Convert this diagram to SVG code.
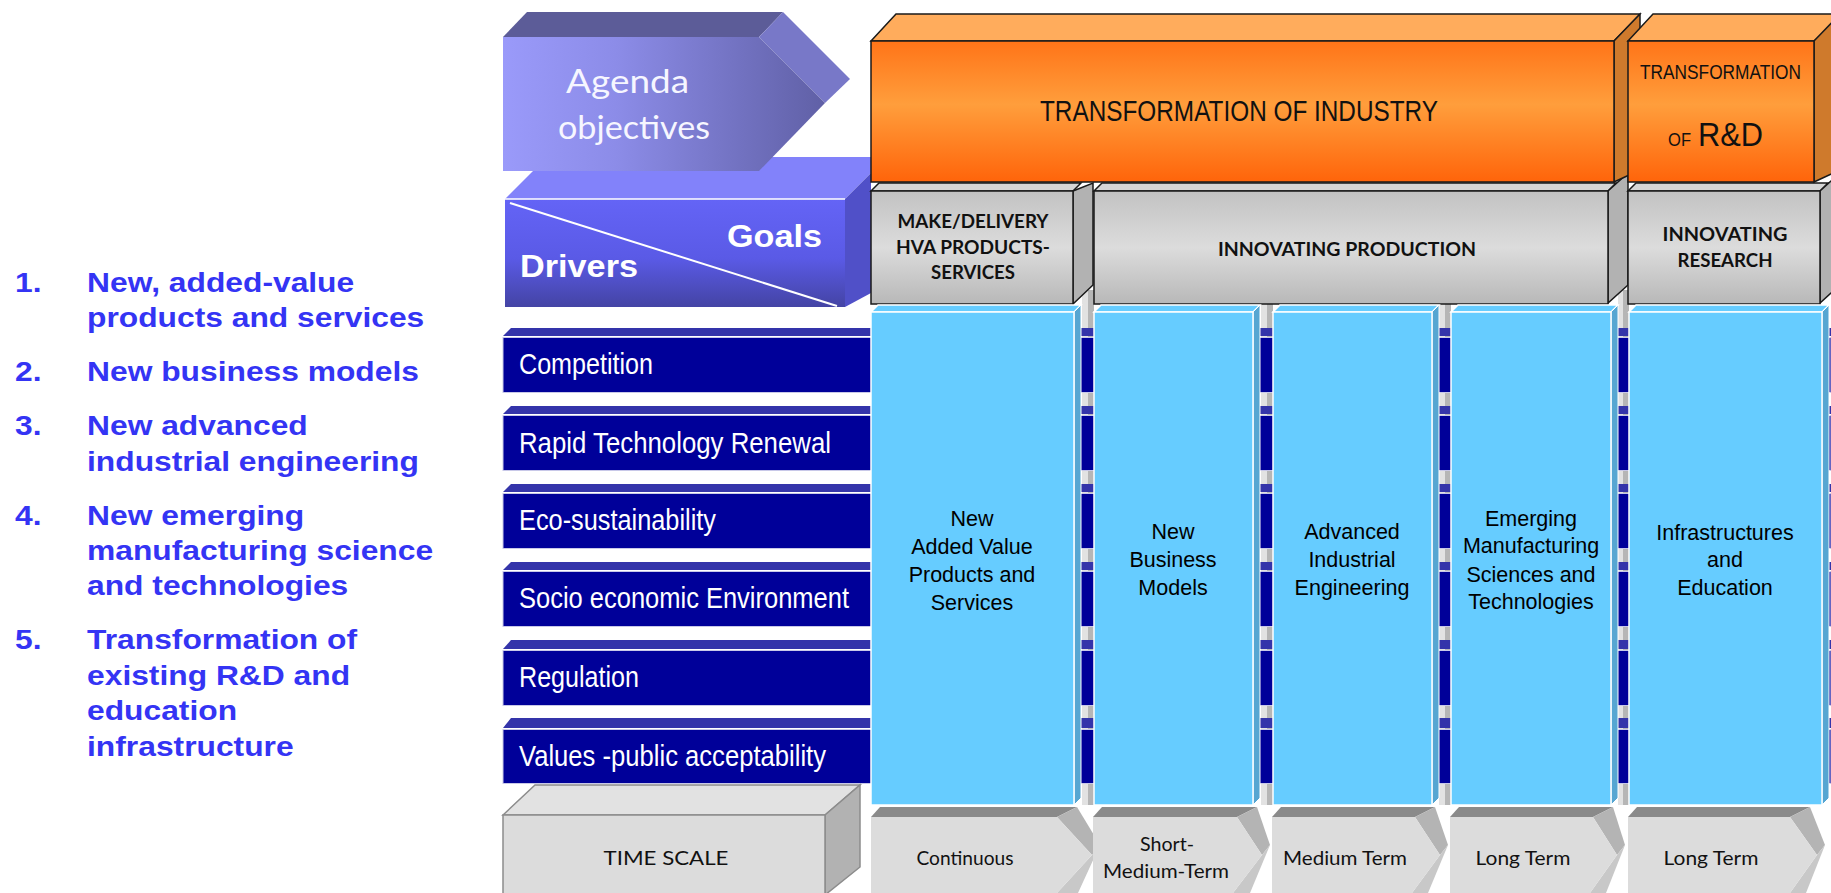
<svg xmlns="http://www.w3.org/2000/svg" width="1831" height="893" viewBox="0 0 1831 893">
<defs>
<linearGradient id="gAgenda" x1="0" y1="0" x2="1" y2="0"><stop offset="0" stop-color="#9a9afa"/><stop offset="0.35" stop-color="#8c8ce8"/><stop offset="1" stop-color="#6060a6"/></linearGradient>
<linearGradient id="gDrivers" x1="0" y1="0" x2="0" y2="1"><stop offset="0" stop-color="#6464f6"/><stop offset="0.55" stop-color="#5a5ae6"/><stop offset="1" stop-color="#4444a4"/></linearGradient>
<linearGradient id="gOrange" x1="0" y1="0" x2="0" y2="1"><stop offset="0" stop-color="#ff7418"/><stop offset="0.45" stop-color="#ff9e3c"/><stop offset="1" stop-color="#ff640a"/></linearGradient>
<linearGradient id="gGray" x1="0" y1="0" x2="0" y2="1"><stop offset="0" stop-color="#c2c2c2"/><stop offset="0.5" stop-color="#dcdcdc"/><stop offset="1" stop-color="#b8b8b8"/></linearGradient>
<style>
.list{font-family:"Liberation Sans",Arial,sans-serif;font-weight:bold;font-size:28px;fill:#3434f4}
.bar{font-family:"Liberation Sans",Arial,sans-serif;font-size:30px;fill:#ffffff}
.col{font-family:"Liberation Sans",Arial,sans-serif;font-size:21.5px;fill:#000000;text-anchor:middle}
.goal{font-family:Lato,"DejaVu Sans",sans-serif;font-weight:bold;font-size:19px;fill:#111111;text-anchor:middle}
.time{font-family:Lato,"DejaVu Sans",sans-serif;font-size:20px;fill:#111111;text-anchor:middle}
.orangeT{font-family:"Liberation Sans",Arial,sans-serif;fill:#111111}
.agenda{font-family:Lato,"DejaVu Sans",sans-serif;font-size:32px;fill:#f6f6ff}
.dg{font-family:"Liberation Sans",Arial,sans-serif;font-weight:bold;font-size:32px;fill:#ffffff}
.strip{fill:#3434aa}
.navy{fill:#000099}
.colF{fill:#66ccff;stroke:#ffffff;stroke-width:1.5}
.colS{fill:#56a6d2;stroke:#ffffff;stroke-width:1}
.pilL{fill:#e2e2e2}
.pilR{fill:#b6b6b6}
.ob{stroke:#1a1a1a;stroke-width:1.5}
.gb{stroke:#1a1a1a;stroke-width:1.5}
.tF{fill:#dcdcdc}
.tT{fill:#8a8a8a}
.tS{fill:#b4b4b4}
.tS2{fill:#c8c8c8}
</style>
</defs>

<g id="goal-list" transform="scale(1.135,1)">
<text class="list" x="13.2" y="292">1.</text>
<text class="list" x="76.7" y="292">New, added-value</text>
<text class="list" x="76.7" y="327">products and services</text>
<text class="list" x="13.2" y="381">2.</text>
<text class="list" x="76.7" y="381">New business models</text>
<text class="list" x="13.2" y="435">3.</text>
<text class="list" x="76.7" y="435">New advanced</text>
<text class="list" x="76.7" y="471">industrial engineering</text>
<text class="list" x="13.2" y="525">4.</text>
<text class="list" x="76.7" y="525">New emerging</text>
<text class="list" x="76.7" y="560">manufacturing science</text>
<text class="list" x="76.7" y="595">and technologies</text>
<text class="list" x="13.2" y="649">5.</text>
<text class="list" x="76.7" y="649">Transformation of</text>
<text class="list" x="76.7" y="685">existing R&amp;D and</text>
<text class="list" x="76.7" y="720">education</text>
<text class="list" x="76.7" y="756">infrastructure</text>
</g>

<g id="pillars">
<rect class="pilL" x="1082" y="290" width="6" height="515"/><rect class="pilR" x="1088" y="290" width="6" height="515"/>
<rect class="pilL" x="1261" y="290" width="6" height="515"/><rect class="pilR" x="1267" y="290" width="6" height="515"/>
<rect class="pilL" x="1439" y="290" width="6" height="515"/><rect class="pilR" x="1445" y="290" width="6" height="515"/>
<rect class="pilL" x="1618" y="290" width="5" height="515"/><rect class="pilR" x="1623" y="290" width="6" height="515"/>
</g>

<g id="driver-bars">
<g id="bar-competition">
<polygon class="strip" points="503,336 511,328 1831,328 1831,336"/>
<rect class="navy" x="503" y="337.5" width="1328" height="55" stroke="#c8c8e8" stroke-width="1"/>
<text class="bar" x="519" y="374" textLength="134" lengthAdjust="spacingAndGlyphs">Competition</text>
</g>
<g id="bar-rapid">
<polygon class="strip" points="503,414 511,406 1831,406 1831,414"/>
<rect class="navy" x="503" y="415.5" width="1328" height="55" stroke="#c8c8e8" stroke-width="1"/>
<text class="bar" x="519" y="453" textLength="312" lengthAdjust="spacingAndGlyphs">Rapid Technology Renewal</text>
</g>
<g id="bar-eco">
<polygon class="strip" points="503,492 511,484 1831,484 1831,492"/>
<rect class="navy" x="503" y="493.5" width="1328" height="55" stroke="#c8c8e8" stroke-width="1"/>
<text class="bar" x="519" y="530" textLength="197" lengthAdjust="spacingAndGlyphs">Eco-sustainability</text>
</g>
<g id="bar-socio">
<polygon class="strip" points="503,570 511,562 1831,562 1831,570"/>
<rect class="navy" x="503" y="571.5" width="1328" height="55" stroke="#c8c8e8" stroke-width="1"/>
<text class="bar" x="519" y="608" textLength="330" lengthAdjust="spacingAndGlyphs">Socio economic Environment</text>
</g>
<g id="bar-regulation">
<polygon class="strip" points="503,649 511,640 1831,640 1831,649"/>
<rect class="navy" x="503" y="650.5" width="1328" height="55" stroke="#c8c8e8" stroke-width="1"/>
<text class="bar" x="519" y="687" textLength="120" lengthAdjust="spacingAndGlyphs">Regulation</text>
</g>
<g id="bar-values">
<polygon class="strip" points="503,728 511,718 1831,718 1831,728"/>
<rect class="navy" x="503" y="729.5" width="1328" height="54" stroke="#c8c8e8" stroke-width="1"/>
<text class="bar" x="519" y="766" textLength="307" lengthAdjust="spacingAndGlyphs">Values -public acceptability</text>
</g>
</g>

<g id="drivers-goals">
<polygon points="505,199 547,157 871,157 871,173 845,199" fill="#8282fa"/>
<polygon points="845,199 871,173 871,293 845,307" fill="#5050c8"/>
<rect x="505" y="199" width="340" height="108" fill="url(#gDrivers)"/>
<line x1="505" y1="199" x2="845" y2="199" stroke="#ffffff" stroke-width="1.5"/>
<line x1="510" y1="203" x2="837" y2="306" stroke="#ffffff" stroke-width="2"/>
<text class="dg" x="727" y="247" textLength="95" lengthAdjust="spacingAndGlyphs">Goals</text>
<text class="dg" x="520" y="277" textLength="118" lengthAdjust="spacingAndGlyphs">Drivers</text>
</g>

<g id="agenda">
<polygon points="503,37 527,12 783,12 759,37" fill="#5c5c98"/>
<polygon points="759,37 783,12 850,79 825,103" fill="#7878c8"/>
<polygon points="503,37 759,37 825,103 759,171 503,171" fill="url(#gAgenda)"/>
<text class="agenda" x="566" y="93" textLength="123" lengthAdjust="spacingAndGlyphs">Agenda</text>
<text class="agenda" x="558" y="139" textLength="152" lengthAdjust="spacingAndGlyphs">objectives</text>
</g>

<g id="goal-make">
<polygon class="gb" points="871,191 879,183 1081,183 1073,191" fill="#d6d6d6"/>
<polygon class="gb" points="1073,191 1093,183 1093,285 1073,304" fill="#b2b2b2"/>
<rect class="gb" x="871" y="191" width="202" height="113" fill="url(#gGray)"/>
<text class="goal" x="973" y="228" textLength="151" lengthAdjust="spacingAndGlyphs">MAKE/DELIVERY</text>
<text class="goal" x="973" y="254" textLength="154" lengthAdjust="spacingAndGlyphs">HVA PRODUCTS-</text>
<text class="goal" x="973" y="279" textLength="84" lengthAdjust="spacingAndGlyphs">SERVICES</text>
</g>
<g id="goal-production">
<polygon class="gb" points="1094,191 1102,183 1616,183 1608,191" fill="#d6d6d6"/>
<polygon class="gb" points="1608,191 1628,173 1628,285 1608,303" fill="#b2b2b2"/>
<rect class="gb" x="1094" y="191" width="514" height="113" fill="url(#gGray)"/>
<text class="goal" x="1347" y="256" textLength="258" lengthAdjust="spacingAndGlyphs">INNOVATING PRODUCTION</text>
</g>
<g id="goal-research">
<polygon class="gb" points="1628,191 1636,183 1828,183 1820,191" fill="#d6d6d6"/>
<polygon class="gb" points="1820,191 1840,173 1840,285 1820,303" fill="#b2b2b2"/>
<rect class="gb" x="1628" y="191" width="192" height="113" fill="url(#gGray)"/>
<text class="goal" x="1725" y="241" textLength="125" lengthAdjust="spacingAndGlyphs">INNOVATING</text>
<text class="goal" x="1725" y="267" textLength="95" lengthAdjust="spacingAndGlyphs">RESEARCH</text>
</g>

<g id="transformation-industry">
<polygon class="ob" points="871,41 896,14 1640,14 1614,41" fill="#ffac5c"/>
<polygon class="ob" points="1614,41 1640,14 1640,170 1614,182" fill="#cf7a2c"/>
<rect class="ob" x="871" y="41" width="743" height="141" fill="url(#gOrange)"/>
<text class="orangeT" x="1040" y="121" font-size="29" textLength="398" lengthAdjust="spacingAndGlyphs">TRANSFORMATION OF INDUSTRY</text>
</g>
<g id="transformation-rd">
<polygon class="ob" points="1628,41 1653,14 1845,14 1814,41" fill="#ffac5c"/>
<polygon class="ob" points="1814,41 1840,14 1840,170 1814,182" fill="#cf7a2c"/>
<rect class="ob" x="1628" y="41" width="186" height="141" fill="url(#gOrange)"/>
<text class="orangeT" transform="scale(1,1.22)" x="1640" y="64.75" font-size="17.3">TRANSFORMATION</text>
<text class="orangeT" x="1668" y="146" font-size="18" textLength="23" lengthAdjust="spacingAndGlyphs">OF</text>
<text class="orangeT" x="1698" y="146" font-size="34" textLength="65" lengthAdjust="spacingAndGlyphs">R&amp;D</text>
</g>

<g id="col-products">
<polygon class="colF" points="871,312 878,305 1081,305 1074,312"/>
<polygon class="colS" points="1074,312 1081,305 1081,798 1074,805"/>
<rect class="colF" x="871" y="312" width="203" height="493"/>
<text class="col" x="972" y="526">New</text>
<text class="col" x="972" y="554">Added Value</text>
<text class="col" x="972" y="582">Products and</text>
<text class="col" x="972" y="610">Services</text>
</g>
<g id="col-business">
<polygon class="colF" points="1094,312 1101,305 1260,305 1253,312"/>
<polygon class="colS" points="1253,312 1260,305 1260,798 1253,805"/>
<rect class="colF" x="1094" y="312" width="159" height="493"/>
<text class="col" x="1173" y="539">New</text>
<text class="col" x="1173" y="567">Business</text>
<text class="col" x="1173" y="595">Models</text>
</g>
<g id="col-engineering">
<polygon class="colF" points="1273,312 1280,305 1439,305 1432,312"/>
<polygon class="colS" points="1432,312 1439,305 1439,798 1432,805"/>
<rect class="colF" x="1273" y="312" width="159" height="493"/>
<text class="col" x="1352" y="539">Advanced</text>
<text class="col" x="1352" y="567">Industrial</text>
<text class="col" x="1352" y="595">Engineering</text>
</g>
<g id="col-emerging">
<polygon class="colF" points="1451,312 1458,305 1618,305 1611,312"/>
<polygon class="colS" points="1611,312 1618,305 1618,798 1611,805"/>
<rect class="colF" x="1451" y="312" width="160" height="493"/>
<text class="col" x="1531" y="526">Emerging</text>
<text class="col" x="1531" y="553">Manufacturing</text>
<text class="col" x="1531" y="582">Sciences and</text>
<text class="col" x="1531" y="609">Technologies</text>
</g>
<g id="col-infrastructures">
<polygon class="colF" points="1629,312 1636,305 1829,305 1822,312"/>
<polygon class="colS" points="1822,312 1829,305 1829,798 1822,805"/>
<rect class="colF" x="1629" y="312" width="193" height="493"/>
<text class="col" x="1725" y="540">Infrastructures</text>
<text class="col" x="1725" y="567">and</text>
<text class="col" x="1725" y="595">Education</text>
</g>

<g id="time-scale">
<polygon points="503,815 535,785 860,785 825,815" fill="#e2e2e2" stroke="#8c8c8c" stroke-width="1.5"/>
<polygon points="825,815 860,785 860,867 825,895" fill="#b2b2b2" stroke="#8c8c8c" stroke-width="1.5"/>
<rect x="503" y="815" width="322" height="82" fill="#dcdcdc" stroke="#8c8c8c" stroke-width="1.5"/>
<text class="time" x="666" y="865" font-size="24" textLength="125" lengthAdjust="spacingAndGlyphs">TIME SCALE</text>
</g>

<g id="time-continuous">
<polygon class="tT" points="871,817 880,807 1077,807 1057,817"/>
<polygon class="tS" points="1057,817 1077,807 1100,845 1092,855"/>
<polygon class="tS2" points="1092,855 1100,845 1078,893 1057,893"/>
<polygon class="tF" points="871,817 1057,817 1092,855 1057,893 871,893"/>
<text class="time" x="965" y="865" textLength="97" lengthAdjust="spacingAndGlyphs">Continuous</text>
</g>
<g id="time-short">
<polygon class="tT" points="1093,817 1102,807 1257,807 1237,817"/>
<polygon class="tS" points="1237,817 1257,807 1270,845 1262,855"/>
<polygon class="tS2" points="1262,855 1270,845 1250,893 1233,893"/>
<polygon class="tF" points="1093,817 1237,817 1262,855 1233,893 1093,893"/>
<text class="time" x="1167" y="851" textLength="54" lengthAdjust="spacingAndGlyphs">Short-</text>
<text class="time" x="1166" y="878" textLength="126" lengthAdjust="spacingAndGlyphs">Medium-Term</text>
</g>
<g id="time-medium">
<polygon class="tT" points="1272,817 1281,807 1435,807 1415,817"/>
<polygon class="tS" points="1415,817 1435,807 1448,845 1440,855"/>
<polygon class="tS2" points="1440,855 1448,845 1428,893 1412,893"/>
<polygon class="tF" points="1272,817 1415,817 1440,855 1412,893 1272,893"/>
<text class="time" x="1345" y="865" textLength="124" lengthAdjust="spacingAndGlyphs">Medium Term</text>
</g>
<g id="time-long1">
<polygon class="tT" points="1450,817 1459,807 1613,807 1593,817"/>
<polygon class="tS" points="1593,817 1613,807 1625,845 1617,855"/>
<polygon class="tS2" points="1617,855 1625,845 1606,893 1590,893"/>
<polygon class="tF" points="1450,817 1593,817 1617,855 1590,893 1450,893"/>
<text class="time" x="1523" y="865" textLength="95" lengthAdjust="spacingAndGlyphs">Long Term</text>
</g>
<g id="time-long2">
<polygon class="tT" points="1628,817 1637,807 1810,807 1790,817"/>
<polygon class="tS" points="1790,817 1810,807 1825,845 1817,855"/>
<polygon class="tS2" points="1817,855 1825,845 1806,893 1790,893"/>
<polygon class="tF" points="1628,817 1790,817 1817,855 1790,893 1628,893"/>
<text class="time" x="1711" y="865" textLength="95" lengthAdjust="spacingAndGlyphs">Long Term</text>
</g>
</svg>
